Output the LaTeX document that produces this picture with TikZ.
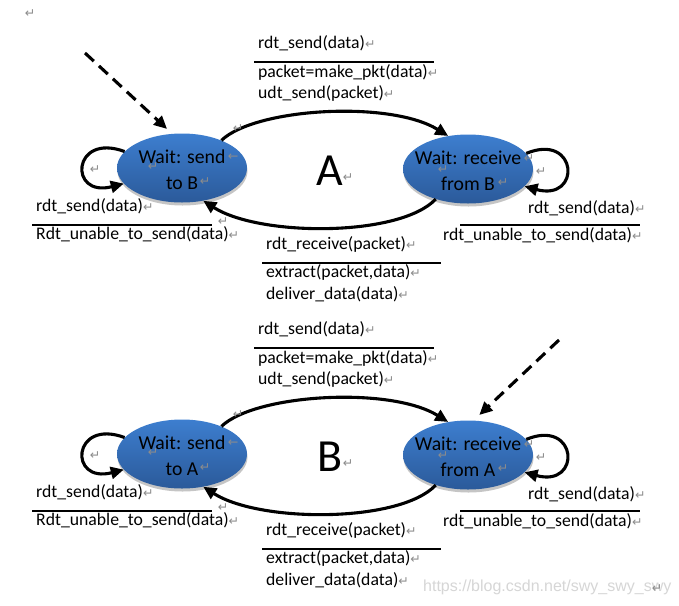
\documentclass[tikz,border=0pt]{standalone}
\usepackage{fontspec}
\setmainfont{Carlito}
\newfontfamily\pmfont{DejaVu Sans}
\newfontfamily\wmfont{Liberation Sans}
\usetikzlibrary{shapes.geometric,shadows,arrows.meta}
\definecolor{pmgray}{HTML}{8C8C8C}
\definecolor{wmgray}{HTML}{D6D6D6}
\definecolor{ellTop}{HTML}{3D7ECF}
\definecolor{ellBot}{HTML}{2B5A9A}
\newcommand\rmk{\textcolor{pmgray}{\pmfont\fontsize{12.5}{12}\selectfont\char"21B5}}
\tikzset{
  lbl/.style={inner sep=0pt, anchor=base west, font=\fontsize{17.7}{21}\selectfont},
  state/.style={ellipse, minimum width=130pt, minimum height=69pt, inner sep=0pt,
    top color=ellTop, bottom color=ellBot, draw=none,
    drop shadow={shadow xshift=0.5pt, shadow yshift=-3pt, opacity=.45}},
  stxt/.style={inner sep=0pt, align=center, font=\fontsize{19.7}{26}\selectfont},
  big/.style={inner sep=0pt, anchor=base, font=\fontsize{46}{46}\selectfont},
  tr/.style={line width=3.1pt, -{Triangle[length=13pt,width=12pt]}},
  sep/.style={line width=1.8pt},
  pm/.style={inner sep=0pt, text=pmgray, font=\pmfont\fontsize{12.5}{12}\selectfont},
}
\newcommand\fsmpart[3]{%
  \node[state] (s#1) at (182,168) {};
  \node[state] (r#1) at (468,169) {};
  \node[stxt, yshift=-1.5pt] (st#1) at (s#1) {Wait: send\\to #2};
  \node[stxt, yshift=-1.5pt] (rt#1) at (r#1) {Wait: receive\\from #2};
  \node[big] (L#1) at (330,185) {#3};
  \draw[tr] (s#1.35) .. controls (255,108) and (390,100) .. (r#1.121);
  \draw[tr] (r#1.223) .. controls (400,237) and (260,237) .. (s#1.303);
  \draw[tr] (s#1.164) .. controls (72,132) and (68,198) .. (s#1.195);
  \draw[tr] (r#1.15) .. controls (578,132) and (582,202) .. (r#1.343);
  \node[lbl] (a1#1) at (258,48) {rdt\_send(data)\rmk};
  \draw[sep] (254,62) -- (434,62);
  \node[lbl] (a2#1) at (258,77) {packet=make\_pkt(data)\rmk};
  \node[lbl] (a3#1) at (258,98) {udt\_send(packet)\rmk};
  \node[lbl] (b1#1) at (266,249) {rdt\_receive(packet)\rmk};
  \draw[sep] (262,263) -- (441,263);
  \node[lbl] (b2#1) at (266,277) {extract(packet,data)\rmk};
  \node[lbl] (b3#1) at (266,299) {deliver\_data(data)\rmk};
  \node[lbl] (c1#1) at (36,211) {rdt\_send(data)\rmk};
  \draw[sep] (32,225) -- (212,225);
  \node[lbl] (c2#1) at (36,239) {Rdt\_unable\_to\_send(data)\rmk};
  \node[lbl] (d1#1) at (528,213) {rdt\_send(data)\rmk};
  \draw[sep] (460,225) -- (640,225);
  \node[lbl] (d2#1) at (443,240) {rdt\_unable\_to\_send(data)\rmk};
  \node[pm] (m1#1) at (238,129) {\char"21B5};
  \node[pm] (m2#1) at (233,157) {\char"2190};
  \node[pm] (m3#1) at (153,167) {\char"21B5};
  \node[pm] (m4#1) at (205,182) {\char"21B5};
  \node[pm] (m5#1) at (95,170) {\char"21B5};
  \node[pm] (m6#1) at (223,222) {\char"21B5};
  \node[pm] (m7#1) at (348,178) {\char"21B5};
  \node[pm] (m8#1) at (529,159) {\char"21B5};
  \node[pm] (m9#1) at (443,170) {\char"21B5};
  \node[pm] (m10#1) at (503,183) {\char"21B5};
  \node[pm] (m11#1) at (541,172) {\char"21B5};
}
\begin{document}
\begin{tikzpicture}[x=1pt,y=-1pt]
  \useasboundingbox[fill=white] (0,0) rectangle (679,605);
  \node[pm] (m0) at (30,14) {\char"21B5};
  \begin{scope}
    \fsmpart{a}{B}{A}
  \end{scope}
  \begin{scope}[shift={(0,286)}]
    \fsmpart{b}{A}{B}
  \end{scope}
  \coordinate (dsa) at (85,53);
  \draw[tr, dash pattern=on 12pt off 7pt, shorten >=7pt] (dsa) -- (sa.106);
  \coordinate (dsb) at (559,340);
  \draw[tr, dash pattern=on 12pt off 7pt, shorten >=8pt] (dsb) -- (rb.81);
  \node[inner sep=0pt, anchor=base west, text=wmgray, font=\wmfont\fontsize{16}{16}\selectfont] (wm) at (423,591) {https://blog.csdn.net/swy\_swy\_swy};
  \node[pm] (mw) at (657,589) {\char"21B5};
\end{tikzpicture}
\end{document}
